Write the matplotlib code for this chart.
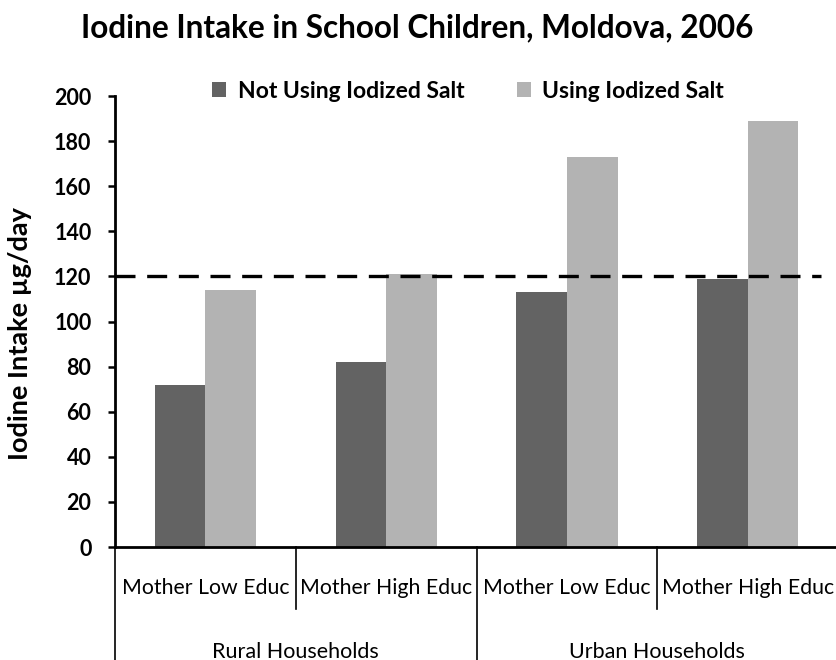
import numpy as np
import matplotlib.pyplot as plt
from matplotlib import transforms

plt.rcParams['font.family'] = ['Lato', 'DejaVu Sans']

# iodine intake, µg/day
subgroups = ['Mother Low Educ', 'Mother High Educ', 'Mother Low Educ', 'Mother High Educ']
households = ['Rural Households', 'Urban Households']
not_iodized = [72, 82, 113, 119]
iodized = [114, 121, 173, 189]
series_names = ['Not Using Iodized Salt', 'Using Iodized Salt']
recommended = 120
yticks = list(range(0, 201, 20))

dark = '#636363'
light = '#b3b3b3'

fig = plt.figure(figsize=(8.36, 6.6), dpi=100)
ax = fig.add_axes([0.1376, 0.1712, 0.865, 0.6833])

x = np.arange(len(subgroups)) + 0.5
w = 0.28
ax.bar(x - w / 2, not_iodized, w, color=dark, label=series_names[0], zorder=2)
ax.bar(x + w / 2, iodized, w, color=light, label=series_names[1], zorder=2)

ax.axhline(recommended, xmin=0, xmax=0.976, color='black', lw=2.4,
           dashes=(6, 3.5), zorder=3)

ax.set_xlim(0, len(subgroups))
ax.set_ylim(0, 200)
ax.set_yticks(yticks)
ax.set_yticklabels([str(t) for t in yticks], fontsize=15.5, fontweight='bold')
ax.tick_params(axis='y', direction='out', length=5, width=1.8, pad=12)
ax.set_xticks([])

for side in ['top', 'right']:
    ax.spines[side].set_visible(False)
ax.spines['left'].set_linewidth(2)
ax.spines['bottom'].set_linewidth(2)

ax.set_ylabel('Iodine Intake µg/day', fontsize=19.5, fontweight='bold')
ax.yaxis.set_label_coords(-0.115, 0.474)

# two-level category axis below the plot
trans = transforms.blended_transform_factory(ax.transData, ax.transAxes)
for i in range(len(subgroups) + 1):
    bottom = -0.3 if i % 2 == 0 else -0.137
    ax.plot([i, i], [0, bottom], color='black', lw=1.2, transform=trans, clip_on=False)
for xi, name in zip(x, subgroups):
    ax.text(xi, -0.091, name, transform=trans, ha='center', va='center', fontsize=15.3)
for j, name in enumerate(households):
    ax.text(2 * j + 1, -0.232, name, transform=trans, ha='center', va='center', fontsize=15.5)

ax.legend(loc='center', bbox_to_anchor=(0.56, 0.862), bbox_transform=fig.transFigure,
          ncol=2, frameon=False, prop={'weight': 'bold', 'size': 16.5},
          handlelength=0.6, handleheight=0.6, handletextpad=0.5, columnspacing=2.3)

fig.text(0.4988, 0.944, 'Iodine Intake in School Children, Moldova, 2006',
         ha='center', va='baseline', fontsize=22.7, fontweight='bold')

fig.savefig('out.png', dpi=100)
